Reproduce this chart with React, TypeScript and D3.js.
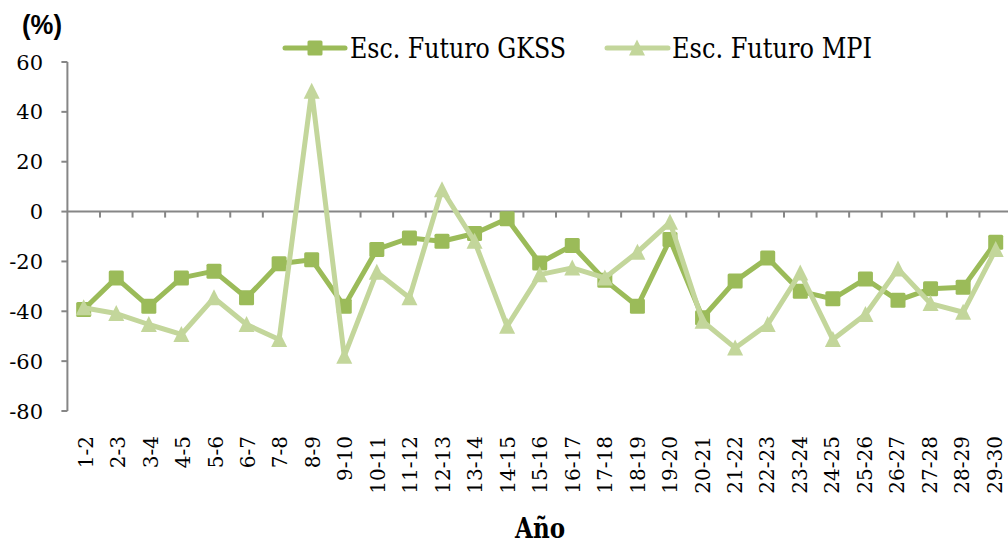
import React from "react";
import * as d3 from "d3";

const categories = [
  "1-2", "2-3", "3-4", "4-5", "5-6", "6-7", "7-8", "8-9", "9-10", "10-11",
  "11-12", "12-13", "13-14", "14-15", "15-16", "16-17", "17-18", "18-19", "19-20", "20-21",
  "21-22", "22-23", "23-24", "24-25", "25-26", "26-27", "27-28", "28-29", "29-30",
];

const gkss = [
  -39.3, -26.6, -38, -26.6, -23.9, -34.6, -20.9, -19.3, -38, -15.2,
  -10.6, -11.9, -8.8, -2.9, -20.6, -13.6, -27.5, -38, -11.2, -42.6,
  -27.9, -18.6, -32, -35, -27, -35.6, -31, -30.4, -12.3,
];

const mpi = [
  -38.6, -40.9, -45.3, -49.3, -34.6, -45.3, -51.3, 48.3, -58, -24.3,
  -34.6, 8.8, -11.9, -46, -25.3, -22.6, -26.6, -16.3, -4.3, -44,
  -54.7, -45.3, -24.6, -51.3, -41.3, -23, -36.9, -40.4, -15.2,
];

const yTicks = [60, 40, 20, 0, -20, -40, -60, -80];

const seriesNames = ["Esc. Futuro GKSS", "Esc. Futuro MPI"];
const colors = ["#9BBB59", "#C3D69B"];

const W = 1008;
const H = 545;
const left = 67.4;
const right = 1012;
const top = 62;
const bottom = 411;

const serif = "'DejaVu Serif', serif";
const condSerif = "'DejaVu Serif Condensed', 'DejaVu Serif', serif";
const axisColor = "#868686";

function Square({ x, y, fill }: { x: number; y: number; fill: string }) {
  const s = 15;
  return <rect x={x - s / 2} y={y - s / 2} width={s} height={s} rx={1.5} fill={fill} />;
}

function Triangle({ x, y, fill }: { x: number; y: number; fill: string }) {
  const w = 16;
  const h = 15;
  const p = `M${x},${y - h / 2 - 1}L${x + w / 2},${y + h / 2}L${x - w / 2},${y + h / 2}Z`;
  return <path d={p} fill={fill} />;
}

export default function App() {
  const x = d3.scaleBand<string>().domain(categories).range([left, right]);
  const y = d3.scaleLinear().domain([-80, 60]).range([bottom, top]);
  const cx = (c: string) => (x(c) ?? 0) + x.bandwidth() / 2;

  const line = d3
    .line<number>()
    .x((_, i) => cx(categories[i]))
    .y((d) => y(d));

  const y0 = y(0);
  const boundaries = categories.map((c) => (x(c) ?? 0) + x.bandwidth());

  const legendY = 48;

  return (
    <svg
      width={W}
      height={H}
      style={{ position: "absolute", left: 0, top: 0, background: "#fff" }}
    >
      {/* y axis */}
      <line x1={left} x2={left} y1={top} y2={bottom} stroke={axisColor} strokeWidth={2} />
      {yTicks.map((t) => (
        <g key={t}>
          <line x1={left - 6} x2={left} y1={y(t)} y2={y(t)} stroke={axisColor} strokeWidth={2} />
          <text
            x={43}
            y={y(t)}
            dy="0.36em"
            textAnchor="end"
            fontFamily={serif}
            fontSize={21}
            fill="#000"
          >
            {t}
          </text>
        </g>
      ))}

      {/* x axis at zero */}
      <line x1={left} x2={W} y1={y0} y2={y0} stroke={axisColor} strokeWidth={2} />
      {boundaries.map((b, i) => (
        <line key={i} x1={b} x2={b} y1={y0} y2={y0 + 6} stroke={axisColor} strokeWidth={2} />
      ))}

      {/* category labels */}
      {categories.map((c, i) => (
        <text
          key={c}
          transform={`translate(${cx(c) + 9 - (i / 28) * 3},${436}) rotate(-90)`}
          textAnchor="end"
          fontFamily={serif}
          fontSize={20}
          fill="#000"
        >
          {c}
        </text>
      ))}

      {/* series */}
      <path d={line(gkss) ?? ""} fill="none" stroke={colors[0]} strokeWidth={5} strokeLinejoin="round" />
      {gkss.map((v, i) => (
        <Square key={i} x={cx(categories[i])} y={y(v)} fill={colors[0]} />
      ))}
      <path d={line(mpi) ?? ""} fill="none" stroke={colors[1]} strokeWidth={5} strokeLinejoin="round" />
      {mpi.map((v, i) => (
        <Triangle key={i} x={cx(categories[i])} y={y(v)} fill={colors[1]} />
      ))}

      {/* legend */}
      <line x1={285} x2={345} y1={legendY} y2={legendY} stroke={colors[0]} strokeWidth={5} strokeLinecap="round" />
      <Square x={315} y={legendY} fill={colors[0]} />
      <text
        x={350}
        y={57.5}
        fontFamily={condSerif}
        fontSize={27}
        textLength={216}
        lengthAdjust="spacingAndGlyphs"
        fill="#000"
      >
        {seriesNames[0]}
      </text>
      <line x1={607} x2={668} y1={legendY} y2={legendY} stroke={colors[1]} strokeWidth={5} strokeLinecap="round" />
      <Triangle x={637} y={legendY} fill={colors[1]} />
      <text
        x={672}
        y={57.5}
        fontFamily={condSerif}
        fontSize={27}
        textLength={200}
        lengthAdjust="spacingAndGlyphs"
        fill="#000"
      >
        {seriesNames[1]}
      </text>

      {/* axis titles */}
      <text
        x={22}
        y={34}
        fontFamily="'Liberation Sans Narrow', 'Liberation Sans', sans-serif"
        fontWeight="bold"
        fontSize={27}
        textLength={40}
        lengthAdjust="spacingAndGlyphs"
        fill="#000"
      >
        (%)
      </text>
      <text
        x={515}
        y={538}
        fontFamily={condSerif}
        fontWeight="bold"
        fontSize={28}
        textLength={50}
        lengthAdjust="spacingAndGlyphs"
        fill="#000"
      >
        Año
      </text>
    </svg>
  );
}
